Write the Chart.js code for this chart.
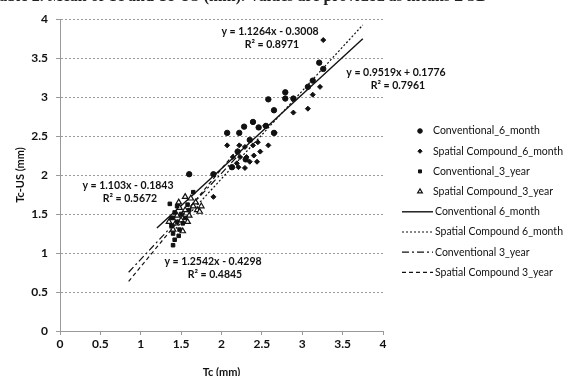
<!DOCTYPE html>
<html>
<head>
<meta charset="utf-8">
<script src="https://cdn.jsdelivr.net/npm/chart.js@4"></script>
<style>
html, body { margin: 0; padding: 0; background: #fff; overflow: hidden; }
#wrap { position: relative; width: 568px; height: 376px; overflow: hidden; }
#c { position: absolute; left: 0; top: 0; }
#cap { position: absolute; left: -10px; top: -13px; font: bold 16px "Liberation Serif"; color: #222; white-space: nowrap; }
</style>
</head>
<body>
<div id="wrap">
  <canvas id="c" width="568" height="376"></canvas>
  <div id="cap">Table 2. Mean of Tc and Tc-US (mm). Values are provided as means ± SD</div>
</div>
<script>
// series values (Tc, Tc-US in mm)
const conv6X = [1.60, 1.90, 2.07, 2.22, 2.28, 2.39, 2.46, 2.58, 2.65, 2.79, 2.79, 2.89, 3.07, 3.13, 3.21, 3.26, 2.65, 2.20, 2.35, 2.55, 2.30, 2.13];
const conv6Y = [2.01, 2.01, 2.54, 2.54, 2.62, 2.68, 2.61, 2.97, 2.83, 3.06, 2.98, 2.98, 3.13, 3.21, 3.44, 3.36, 2.54, 2.30, 2.45, 2.63, 2.20, 2.10];
const sc6X = [3.26, 3.22, 3.13, 3.07, 2.89, 2.58, 2.07, 1.90, 2.22, 2.29, 2.39, 2.45, 2.14, 2.23, 2.31, 2.19, 2.29, 2.35, 2.44, 2.21, 2.54, 2.40, 2.66, 2.48];
const sc6Y = [3.73, 3.13, 3.03, 2.85, 2.80, 2.38, 2.38, 1.72, 2.38, 2.36, 2.38, 2.42, 2.23, 2.23, 2.23, 2.15, 2.09, 2.17, 2.17, 2.10, 2.63, 2.25, 2.54, 2.30];
const conv3X = [1.36, 1.40, 1.42, 1.40, 1.38, 1.45, 1.40, 1.48, 1.50, 1.42, 1.55, 1.60, 1.45, 1.52, 1.58, 1.65, 1.38, 1.47];
const conv3Y = [1.63, 1.10, 1.17, 1.25, 1.35, 1.40, 1.45, 1.30, 1.50, 1.52, 1.45, 1.55, 1.60, 1.38, 1.62, 1.78, 1.45, 1.22];
const sc3X = [1.40, 1.45, 1.50, 1.55, 1.60, 1.65, 1.70, 1.73, 1.55, 1.62, 1.48, 1.43, 1.52, 1.68, 1.75, 1.58, 1.35, 1.47];
const sc3Y = [1.30, 1.48, 1.42, 1.55, 1.48, 1.60, 1.55, 1.53, 1.72, 1.70, 1.58, 1.38, 1.28, 1.65, 1.60, 1.40, 1.40, 1.65];

const seriesNames = ['Conventional_6_month', 'Spatial Compound_6_month', 'Conventional_3_year', 'Spatial Compound_3_year'];
const trendNames = ['Conventional 6_month', 'Spatial Compound 6_month', 'Conventional 3_year', 'Spatial Compound 3_year'];
const trendSlope = [0.9519, 1.1264, 1.103, 1.2542];
const trendIntercept = [0.1776, -0.3008, -0.1843, -0.4298];
const trendFrom = [1.2, 1.4, 0.85, 0.85];
const trendTo = [3.75, 3.75, 2.25, 2.25];
const trendEq = ['y = 0.9519x + 0.1776', 'y = 1.1264x - 0.3008', 'y = 1.103x - 0.1843', 'y = 1.2542x - 0.4298'];
const trendR2 = ['R² = 0.7961', 'R² = 0.8971', 'R² = 0.5672', 'R² = 0.4845'];

const xTicks = [0, 0.5, 1, 1.5, 2, 2.5, 3, 3.5, 4];
const yTicks = [0, 0.5, 1, 1.5, 2, 2.5, 3, 3.5, 4];

// where the equation boxes sit (pixel centres)
const eqPos = [[396, 73], [270, 32], [128, 186], [213, 262]];

const pts = (xs, ys) => xs.map((x, i) => ({x: x, y: ys[i]}));
const trend = i => [trendFrom[i], trendTo[i]].map(x => ({x: x, y: trendSlope[i] * x + trendIntercept[i]}));

const ink = '#111';
const markStyle = [
    {pointStyle: 'circle', pointRadius: 2.7, pointBackgroundColor: ink, pointBorderColor: ink, pointBorderWidth: 1},
    {pointStyle: 'rectRot', pointRadius: 2.5, pointBackgroundColor: ink, pointBorderColor: ink, pointBorderWidth: 1},
    {pointStyle: 'rect', pointRadius: 2.5, pointBackgroundColor: ink, pointBorderColor: ink, pointBorderWidth: 1},
    {pointStyle: 'triangle', pointRadius: 3.2, pointBackgroundColor: '#fff', pointBorderColor: ink, pointBorderWidth: 1.2}
];
const lineStyle = [
    {borderDash: [], borderWidth: 1.4},
    {borderDash: [2, 2], borderWidth: 1.2},
    {borderDash: [7, 3, 2, 3], borderWidth: 1.2},
    {borderDash: [4, 3], borderWidth: 1.2}
];

const scatterSets = [[conv6X, conv6Y], [sc6X, sc6Y], [conv3X, conv3Y], [sc3X, sc3Y]].map((s, i) => Object.assign({
    label: seriesNames[i],
    data: pts(s[0], s[1]),
    showLine: false,
    order: 1
}, markStyle[i]));

const trendSets = trendNames.map((n, i) => Object.assign({
    label: n,
    data: trend(i),
    showLine: true,
    borderColor: ink,
    pointRadius: 0,
    fill: false,
    order: 2
}, lineStyle[i]));

// legend + trendline equations, drawn onto the same canvas
const extras = {
    id: 'extras',
    afterDraw(chart) {
        const ctx = chart.ctx;
        ctx.save();
        ctx.fillStyle = ink;
        ctx.textBaseline = 'middle';
        ctx.textAlign = 'center';
        ctx.font = 'bold 10.5px Lato';
        trendEq.forEach((t, i) => {
            ctx.fillText(t, eqPos[i][0], eqPos[i][1]);
            ctx.fillText(trendR2[i], eqPos[i][0] + 2, eqPos[i][1] + 13);
        });

        ctx.textAlign = 'left';
        ctx.font = '10.5px Lato';
        chart.data.datasets.forEach((ds, i) => {
            const y = 131 + i * 20.2;
            ctx.save();
            if (ds.showLine) {
                ctx.strokeStyle = ds.borderColor;
                ctx.lineWidth = ds.borderWidth;
                ctx.setLineDash(ds.borderDash);
                ctx.beginPath(); ctx.moveTo(402, y); ctx.lineTo(433, y); ctx.stroke();
            } else {
                ctx.fillStyle = ds.pointBackgroundColor;
                ctx.strokeStyle = ds.pointBorderColor;
                ctx.lineWidth = ds.pointBorderWidth;
                Chart.helpers.drawPoint(ctx, {pointStyle: ds.pointStyle, radius: ds.pointRadius * 0.85, rotation: 0, borderWidth: ds.pointBorderWidth}, 420, y);
            }
            ctx.restore();
            ctx.fillText(ds.label, ds.showLine ? 435 : 433, y);
        });
        ctx.restore();
    }
};

const tickFont = {family: 'Lato', size: 12, weight: 'bold'};
const fmt = v => String(v);

new Chart(document.getElementById('c'), {
    type: 'scatter',
    data: {datasets: scatterSets.concat(trendSets)},
    options: {
        responsive: false,
        animation: false,
        devicePixelRatio: 1,
        layout: {padding: {left: 0, top: 19, right: 185, bottom: 0}},
        plugins: {legend: {display: false}, tooltip: {enabled: false}},
        scales: {
            x: {
                type: 'linear', min: 0, max: 4,
                afterBuildTicks: s => { s.ticks = xTicks.map(v => ({value: v})); },
                afterFit: s => { s.height = 45; },
                ticks: {color: ink, font: tickFont, padding: 2, callback: fmt},
                grid: {drawOnChartArea: false, color: '#999', tickLength: 4},
                border: {color: '#999'},
                title: {display: true, text: 'Tc (mm)', color: ink, font: {family: 'Lato', size: 11, weight: 'bold'}, padding: {top: 0, bottom: -3}}
            },
            y: {
                type: 'linear', min: 0, max: 4,
                afterBuildTicks: s => { s.ticks = yTicks.map(v => ({value: v})); },
                afterFit: s => { s.width = 60; },
                ticks: {color: ink, font: tickFont, padding: 8, callback: fmt},
                grid: {color: '#9a9a9a', tickLength: 4},
                border: {color: '#999', dash: [2, 2]},
                title: {display: true, text: 'Tc-US (mm)', color: ink, font: {family: 'Lato', size: 11, weight: 'bold'}, padding: {top: 14, bottom: 0}}
            }
        }
    },
    plugins: [extras]
});
</script>
</body>
</html>
